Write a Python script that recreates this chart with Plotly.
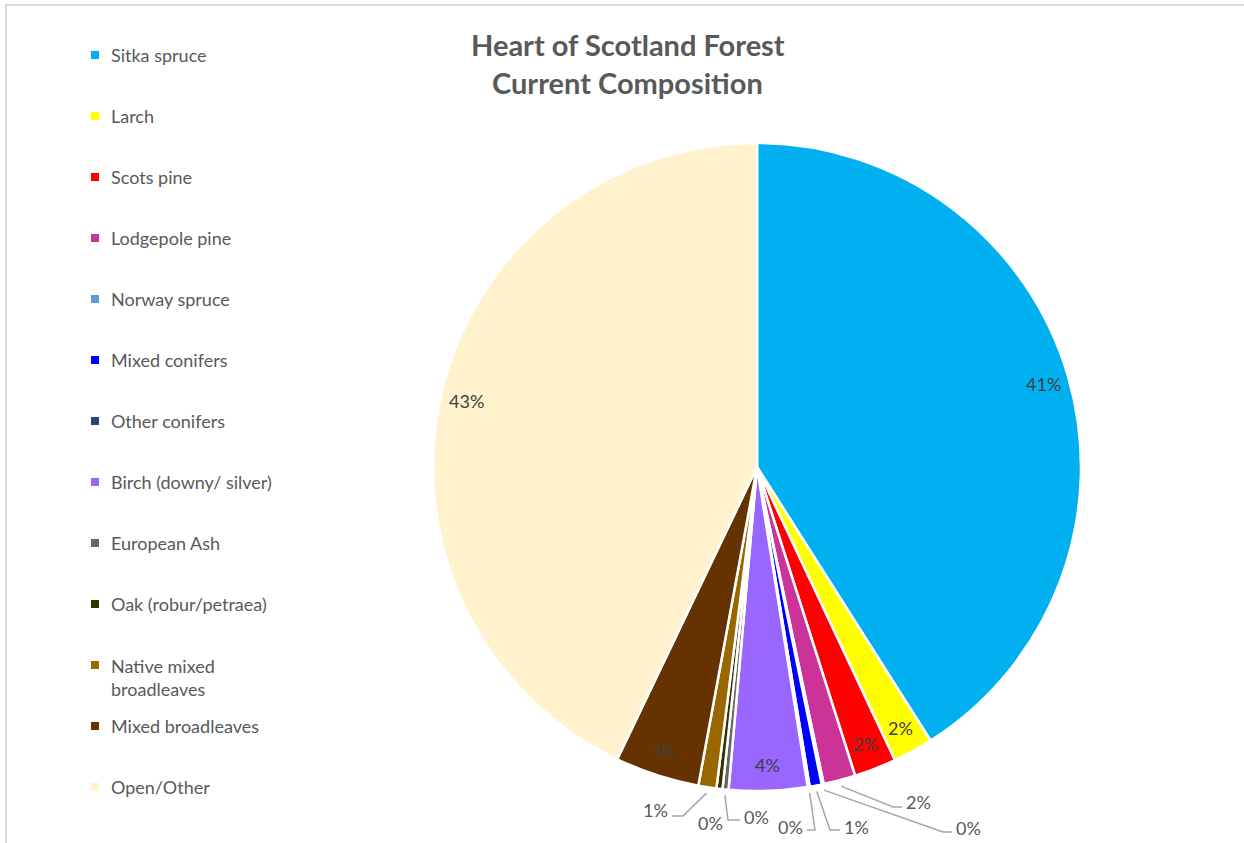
import math
import plotly.graph_objects as go

# ---------------- data ----------------
species = [
    "Sitka spruce", "Larch", "Scots pine", "Lodgepole pine", "Norway spruce",
    "Mixed conifers", "Other conifers", "Birch (downy/ silver)", "European Ash",
    "Oak (robur/petraea)", "Native mixed broadleaves", "Mixed broadleaves", "Open/Other",
]
legend_text = [
    "Sitka spruce", "Larch", "Scots pine", "Lodgepole pine", "Norway spruce",
    "Mixed conifers", "Other conifers", "Birch (downy/ silver)", "European Ash",
    "Oak (robur/petraea)", "Native mixed<br>broadleaves", "Mixed broadleaves", "Open/Other",
]
shares = [41.0, 2.0, 2.1, 1.6, 0.1, 0.6, 0.1, 3.9, 0.3, 0.3, 0.9, 4.2, 42.9]
colors = [
    "#00B0F0", "#FFFF00", "#FF0000", "#CC3399", "#5B9BD5", "#0000FF", "#264478",
    "#9966FF", "#666666", "#333300", "#996600", "#663300", "#FFF2CC",
]
title_lines = ["Heart of Scotland Forest", "Current Composition"]

# ---------------- layout constants ----------------
W, H = 1244, 843
CX, CY, R = 757, 467, 324          # pie centre / radius in pixels
FONT = "Lato"
GRAY = "#595959"
LBL = "#404040"

def px(x):
    return x / W

def py(y):
    return 1 - y / H

total = sum(shares)
pct_text = [f"{math.floor(v / total * 100 + 0.5)}%" for v in shares]

fig = go.Figure(go.Pie(
    labels=species,
    values=shares,
    sort=False,
    direction="clockwise",
    rotation=0,
    marker=dict(colors=colors, line=dict(color="white", width=2.5)),
    textinfo="none",
    hoverinfo="label+percent",
    showlegend=False,
    domain=dict(x=[px(CX - R), px(CX + R)], y=[py(CY + R), py(CY - R)]),
))

# mid-angle of each slice (clockwise from 12 o'clock)
mids = []
cum = 0.0
for v in shares:
    mids.append((cum + v / 2) / total * 2 * math.pi)
    cum += v

def polar(theta, r):
    return CX + r * math.sin(theta), CY - r * math.cos(theta)

annotations = []
shapes = []

inside = {0, 1, 2, 7, 11, 12}
# outside label placement: (elbow, end, text anchor point, xanchor)
outside = {
    3: ((893, 807), (902, 807), (904, 802), "left"),
    4: ((943, 832), (952, 832), (954, 828), "left"),
    5: ((830, 830), (840, 830), (842, 827), "left"),
    6: ((815, 830), (807, 830), (805, 827), "right"),
    8: ((728, 820), (740, 820), (742, 817), "left"),
    9: (None, None, (710, 823), "center"),
    10: ((683, 816), (672, 816), (670, 810), "right"),
}

for i, t in enumerate(pct_text):
    if i in inside:
        x, y = polar(mids[i], 0.92 * R)
        annotations.append(dict(x=px(x), y=py(y), xref="paper", yref="paper",
                                text=t, showarrow=False, xanchor="center", yanchor="middle",
                                font=dict(family=FONT, size=18, color=LBL)))
    else:
        elbow, end, tp, anchor = outside[i]
        if elbow is not None:
            sx, sy = polar(mids[i], R + 6)
            path = (f"M {px(sx)},{py(sy)} L {px(elbow[0])},{py(elbow[1])} "
                    f"L {px(end[0])},{py(end[1])}")
            shapes.append(dict(type="path", xref="paper", yref="paper", path=path,
                               line=dict(color="#A6A6A6", width=1.5)))
        annotations.append(dict(x=px(tp[0]), y=py(tp[1]), xref="paper", yref="paper",
                                text=t, showarrow=False, xanchor=anchor, yanchor="middle",
                                font=dict(family=FONT, size=18, color=GRAY)))

# manual legend
LEG_Y0, LEG_DY = 55, 61
for i, (name, col) in enumerate(zip(legend_text, colors)):
    yc = LEG_Y0 + i * LEG_DY
    shapes.append(dict(type="rect", xref="paper", yref="paper",
                       x0=px(91), x1=px(99), y0=py(yc + 4), y1=py(yc - 4),
                       fillcolor=col, line=dict(width=0)))
    two = "<br>" in name
    annotations.append(dict(x=px(109), y=py(yc - 12 if two else yc), xref="paper", yref="paper",
                            text=name, showarrow=False, xanchor="left",
                            yanchor="top" if two else "middle",
                            align="left",
                            font=dict(family=FONT, size=18, color=GRAY)))

# title
for k, line in enumerate(title_lines):
    annotations.append(dict(x=px(628), y=py(44 + k * 38), xref="paper", yref="paper",
                            text=f"<b>{line}</b>", showarrow=False,
                            xanchor="center", yanchor="middle",
                            font=dict(family=FONT, size=29, color=GRAY)))

# chart border
shapes.append(dict(type="rect", xref="paper", yref="paper",
                   x0=px(6), x1=px(1260), y0=py(860), y1=py(5),
                   line=dict(color="#D9D9D9", width=2), fillcolor="rgba(0,0,0,0)"))

fig.update_layout(
    width=W, height=H,
    margin=dict(l=0, r=0, t=0, b=0),
    paper_bgcolor="white",
    plot_bgcolor="white",
    annotations=annotations,
    shapes=shapes,
    font=dict(family=FONT, color=GRAY),
)

fig.write_html("out.html",
               config={"displayModeBar": False},
               post_script="document.body.style.margin='0';document.body.style.overflow='hidden';")
